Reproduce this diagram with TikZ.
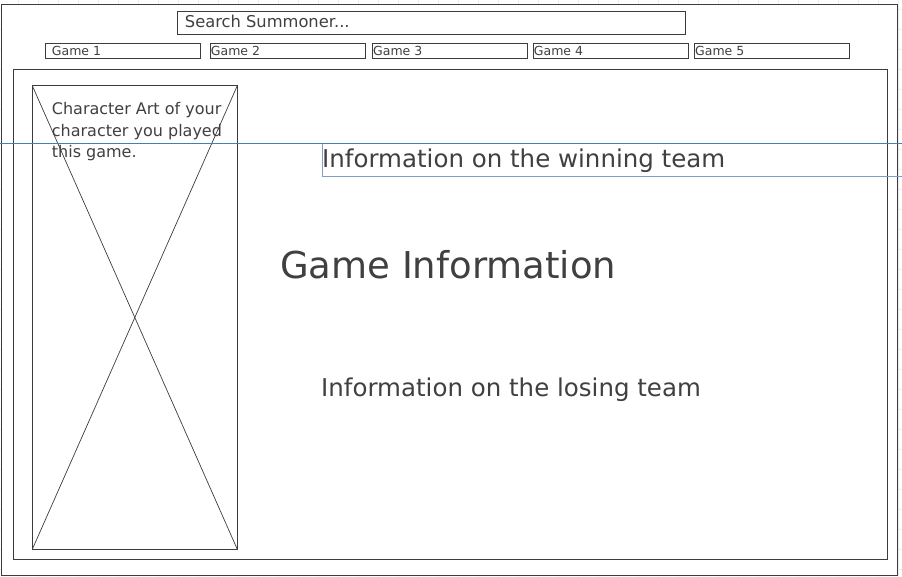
\documentclass[tikz,border=0pt]{standalone}
\usepackage{fontspec}
\setmainfont{DejaVu Sans}
\usepackage[]{xcolor}
\usepackage{tikz}
\definecolor{framegray}{RGB}{60,60,60}
\definecolor{textgray}{RGB}{64,64,64}
\definecolor{gridgray}{RGB}{236,236,236}
\definecolor{guideblue}{RGB}{70,125,180}
\definecolor{boxblue}{RGB}{125,158,198}

\begin{document}
\begin{tikzpicture}[x=1pt,y=-1pt,
    frame/.style={draw=framegray,line width=1pt},
    label/.style={inner sep=0pt,anchor=base west,text=textgray}]
    \useasboundingbox (0,0) rectangle (902,577);
    % background grid
    \foreach \x in {18,38,...,898}
        \draw[gridgray,line width=.8pt] (\x,0) -- (\x,577);
    \foreach \y in {9,29,...,569}
        \draw[gridgray,line width=.8pt] (0,\y) -- (902,\y);
    \filldraw[frame,fill=white]    (1,4.5) rectangle (897,575);
    \draw[frame]    (13.3,69.3) rectangle (887.5,559.3);
    % search bar
    \draw[frame]    (177.3,11.5) rectangle (685.7,34.5);
    \node[label,font=\fontsize{16.3}{19}\selectfont] (search) at (184.7,28) {Search Summoner...};
    % game tabs
    \foreach \i/\x/\t in {1/45.5/51.7,2/210/210.7,3/372/373,4/533/533.7,5/694.3/695}{
        \draw[frame]    (\x,43.5) rectangle ++(155.3,15);
        \node[label,font=\fontsize{12.5}{15}\selectfont] (game\i) at (\t,56) {Game \i};
    }
    % character art placeholder
    \draw[framegray,line width=.9pt]    (32.3,85.7) rectangle (237.3,549.3);
    \draw[framegray,line width=.7pt]    (32.3,85.7) -- (237.3,549.3);
    \draw[framegray,line width=.7pt]    (237.3,85.7) -- (32.3,549.3);
    \node[label,align=left,font=\fontsize{16}{21.5}\selectfont] (art) at (51.7,158)
        {Character Art of your\\character you played\\this game.};
    % selection guides
    \draw[guideblue,line width=.8pt]    (0,143.7) -- (902,143.7);
    \draw[boxblue,line width=.8pt]    (903,176.3) -- (322,176.3) -- (322,143.7);
    \node[label,font=\fontsize{24.5}{29}\selectfont] (winning) at (322,167.7) {Information on the winning team};
    \node[label,font=\fontsize{37}{44}\selectfont] (gameinfo) at (280,278.3) {Game Information};
    \node[label,font=\fontsize{24.5}{29}\selectfont] (losing) at (321,396.7) {Information on the losing team};
\end{tikzpicture}
\end{document}
